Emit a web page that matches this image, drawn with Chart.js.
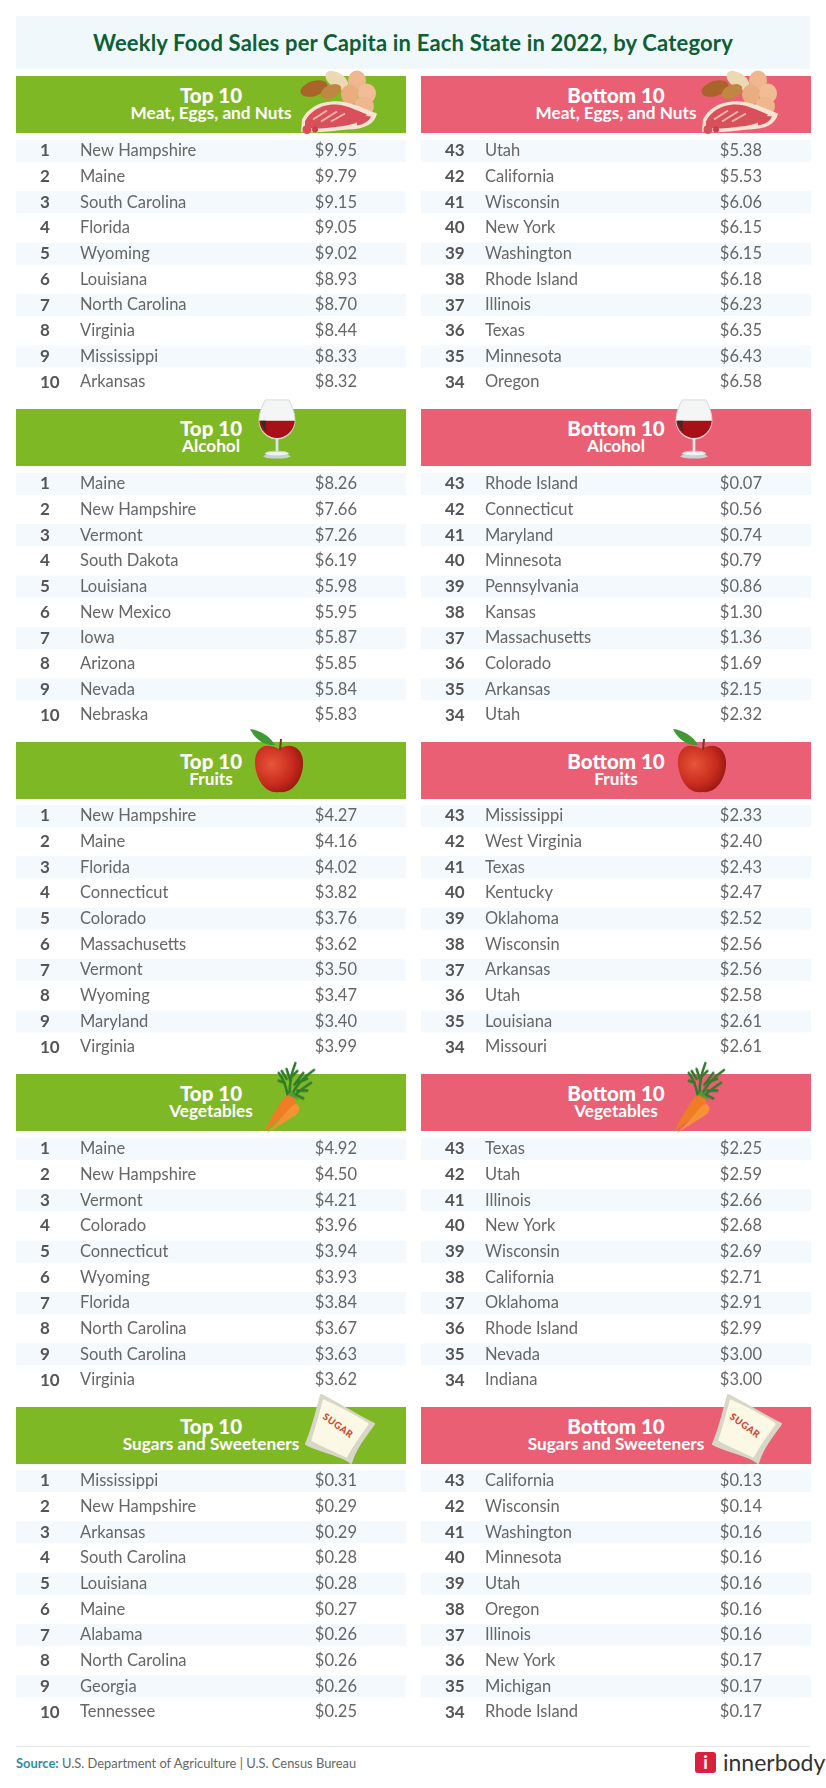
<!DOCTYPE html>
<html>
<head>
<meta charset="utf-8">
<title>Weekly Food Sales per Capita</title>
<script src="https://cdn.jsdelivr.net/npm/chart.js@4/dist/chart.umd.min.js"></script>
<style>
    html, body { margin: 0; background: #fff; }
    #page { position: relative; width: 826px; height: 1788px; overflow: hidden; font-family: Lato, sans-serif; }
    #titleBox { position: absolute; left: 16px; top: 16px; width: 794px; height: 53px; background: #f1f8fb; color: #0f5f36;
        font-weight: 700; font-size: 22px; line-height: 53px; text-align: center; letter-spacing: .18px; }
    .head { position: absolute; width: 390px; height: 57px; color: #fff; text-align: center; font-weight: 700; }
    .head.top { background: #7fb825; }
    .head.bottom { background: #ea5f74; }
    .head b { position: absolute; left: 0; right: 0; top: 6px; font-size: 20.5px; line-height: 26px; }
    .head span { position: absolute; left: 0; right: 0; top: 27px; font-size: 17.2px; line-height: 20px; }
    canvas { position: absolute; }
    .icon { position: absolute; overflow: visible; }
    #rule { position: absolute; left: 16px; top: 1746px; width: 794px; height: 1px; background: #e6e8e8; }
    #source { position: absolute; left: 16px; top: 1755px; font-size: 12.9px; line-height: 17px; color: #666; }
    #source b { color: #2b8ea6; }
    #logoMark { position: absolute; left: 695px; top: 1752px; width: 21px; height: 21px; border-radius: 3px; background: #d9213f;
        color: #fff; font: 700 18px/21px Lato, sans-serif; text-align: center; }
    #logoText { position: absolute; left: 723px; top: 1749px; font-size: 23px; line-height: 27px; color: #333; }
</style>
</head>
<body>
<div id="page">
    <div id="titleBox">Weekly Food Sales per Capita in Each State in 2022, by Category</div>
    <div id="rule"></div>
    <div id="source"><b>Source:</b> U.S. Department of Agriculture | U.S. Census Bureau</div>
    <div id="logoMark">i</div>
    <div id="logoText">innerbody</div>
</div>
<script>
// Data
const topRanks = [1, 2, 3, 4, 5, 6, 7, 8, 9, 10];
const bottomRanks = [43, 42, 41, 40, 39, 38, 37, 36, 35, 34];

const meatTopStates = ['New Hampshire', 'Maine', 'South Carolina', 'Florida', 'Wyoming', 'Louisiana', 'North Carolina', 'Virginia', 'Mississippi', 'Arkansas'];
const meatTopValues = [9.95, 9.79, 9.15, 9.05, 9.02, 8.93, 8.70, 8.44, 8.33, 8.32];
const meatBottomStates = ['Utah', 'California', 'Wisconsin', 'New York', 'Washington', 'Rhode Island', 'Illinois', 'Texas', 'Minnesota', 'Oregon'];
const meatBottomValues = [5.38, 5.53, 6.06, 6.15, 6.15, 6.18, 6.23, 6.35, 6.43, 6.58];

const alcoholTopStates = ['Maine', 'New Hampshire', 'Vermont', 'South Dakota', 'Louisiana', 'New Mexico', 'Iowa', 'Arizona', 'Nevada', 'Nebraska'];
const alcoholTopValues = [8.26, 7.66, 7.26, 6.19, 5.98, 5.95, 5.87, 5.85, 5.84, 5.83];
const alcoholBottomStates = ['Rhode Island', 'Connecticut', 'Maryland', 'Minnesota', 'Pennsylvania', 'Kansas', 'Massachusetts', 'Colorado', 'Arkansas', 'Utah'];
const alcoholBottomValues = [0.07, 0.56, 0.74, 0.79, 0.86, 1.30, 1.36, 1.69, 2.15, 2.32];

const fruitTopStates = ['New Hampshire', 'Maine', 'Florida', 'Connecticut', 'Colorado', 'Massachusetts', 'Vermont', 'Wyoming', 'Maryland', 'Virginia'];
const fruitTopValues = [4.27, 4.16, 4.02, 3.82, 3.76, 3.62, 3.50, 3.47, 3.40, 3.99];
const fruitBottomStates = ['Mississippi', 'West Virginia', 'Texas', 'Kentucky', 'Oklahoma', 'Wisconsin', 'Arkansas', 'Utah', 'Louisiana', 'Missouri'];
const fruitBottomValues = [2.33, 2.40, 2.43, 2.47, 2.52, 2.56, 2.56, 2.58, 2.61, 2.61];

const vegTopStates = ['Maine', 'New Hampshire', 'Vermont', 'Colorado', 'Connecticut', 'Wyoming', 'Florida', 'North Carolina', 'South Carolina', 'Virginia'];
const vegTopValues = [4.92, 4.50, 4.21, 3.96, 3.94, 3.93, 3.84, 3.67, 3.63, 3.62];
const vegBottomStates = ['Texas', 'Utah', 'Illinois', 'New York', 'Wisconsin', 'California', 'Oklahoma', 'Rhode Island', 'Nevada', 'Indiana'];
const vegBottomValues = [2.25, 2.59, 2.66, 2.68, 2.69, 2.71, 2.91, 2.99, 3.00, 3.00];

const sugarTopStates = ['Mississippi', 'New Hampshire', 'Arkansas', 'South Carolina', 'Louisiana', 'Maine', 'Alabama', 'North Carolina', 'Georgia', 'Tennessee'];
const sugarTopValues = [0.31, 0.29, 0.29, 0.28, 0.28, 0.27, 0.26, 0.26, 0.26, 0.25];
const sugarBottomStates = ['California', 'Wisconsin', 'Washington', 'Minnesota', 'Utah', 'Oregon', 'Illinois', 'New York', 'Michigan', 'Rhode Island'];
const sugarBottomValues = [0.13, 0.14, 0.16, 0.16, 0.16, 0.16, 0.16, 0.17, 0.17, 0.17];

// Small illustrations, drawn by hand as svg
const icons = {
    meat: {
        box: '0 0 80 64',
        svg: `<ellipse cx="15" cy="19" rx="14" ry="7.5" fill="#a9642a" transform="rotate(-18 15 19)"/>
            <ellipse cx="38" cy="11" rx="13" ry="7.5" fill="#ecd9b4" transform="rotate(35 38 11)"/>
            <ellipse cx="32" cy="22" rx="11" ry="6.5" fill="#c08743" transform="rotate(-25 32 22)"/>
            <ellipse cx="58" cy="11" rx="9" ry="10" fill="#eeb78d"/><ellipse cx="51" cy="25" rx="9" ry="10" fill="#e9ad80"/>
            <ellipse cx="68" cy="24" rx="9" ry="10" fill="#f0bd95"/><ellipse cx="65" cy="37" rx="10" ry="10" fill="#eeb78d"/>
            <path d="M3 50 C8 40 18 33 32 32 C48 30 62 38 78 44 C76 54 66 60 48 60 C30 62 14 64 2 62 Z" fill="#f7e3d3"/>
            <path d="M6 52 C10 43 20 36 33 35 C45 34 56 40 68 45 C62 53 52 56 40 57 C28 59 14 60 6 57 Z" fill="#d9505a"/>
            <path d="M14 50 L28 41 M22 52 L38 42 M32 52 L46 44" stroke="#f3b7b2" stroke-width="2"/>
            <path d="M58 50 C62 46 68 46 72 47 C70 52 64 55 58 56 Z" fill="#d9505a"/>
            <circle cx="8" cy="60" r="4.5" fill="#d9505a"/><circle cx="16" cy="60" r="3" fill="#c9404a"/>`
    },
    wine: {
        box: '0 0 42 66',
        svg: `<ellipse cx="21" cy="63" rx="15" ry="2.5" fill="#c9d3d4"/>
            <path d="M8 1 C2 12 0 22 2 29 C5 40 14 44 21 44 C28 44 37 40 40 29 C42 22 40 12 34 1 Z" fill="#f4f6f6" stroke="#cfd8d9"/>
            <path d="M1.5 24 C2 34 10 43 21 43 C32 43 40 34 40.5 24 Z" fill="#a80f16"/>
            <path d="M3 24 C4 30 7 34 10 36 C8 32 8 28 9 24 Z" fill="#3a2a2a"/>
            <rect x="19.5" y="44" width="3" height="15" fill="#dfe6e7"/>
            <ellipse cx="21" cy="60" rx="13" ry="2.6" fill="#eef2f2" stroke="#c4cfd0"/>`
    },
    apple: {
        box: '0 0 54 64',
        svg: `<defs><radialGradient id="appleRed" cx=".35" cy=".4" r=".75">
                <stop offset="0" stop-color="#e8553a"/><stop offset=".6" stop-color="#c62a1c"/><stop offset="1" stop-color="#8a120e"/>
            </radialGradient></defs>
            <path d="M0 0 C10 1 20 7 25 16 C14 17 5 10 0 0 Z" fill="#3f9a35"/>
            <path d="M29 20 C12 11 4 22 5 36 C7 52 16 65 29 63 C44 65 54 48 53 32 C52 20 42 12 29 20 Z" fill="url(#appleRed)"/>
            <path d="M30 21 L31 10" stroke="#6b3d18" stroke-width="2"/>`
    },
    carrot: {
        box: '0 0 55 74',
        svg: `<g stroke="#2f7d2c" stroke-width="2.6" fill="none" stroke-linecap="round">
                <path d="M26 34 C24 24 22 18 17 12 M28 33 C28 22 30 12 34 2 M30 35 C34 26 40 18 53 9 M32 36 C38 30 44 26 50 22"/>
                <path d="M23 22 L17 20 M25 18 L20 10 M29 20 L25 8 M30 16 L36 10 M33 24 L42 12 M36 22 L46 18 M36 30 L46 30 M34 34 L42 38"/>
            </g>
            <path d="M26 34 L30 30 L38 40 Z" fill="#4f9e33"/>
            <path d="M30 36 C36 38 36 44 32 48 L2 72 C8 60 18 42 24 36 C26 35 28 35 30 36 Z" fill="#ee7d26"/>
            <path d="M36 44 C40 48 38 52 34 55 L4 74 C14 66 24 52 30 46 C32 44 34 43 36 44 Z" fill="#f59235"/>`
    },
    sugar: {
        box: '0 0 70 70',
        svg: `<path d="M16 1 C30 8 50 20 69 30 C60 42 50 55 46 69 C40 62 16 58 1 50 C8 34 12 16 16 1 Z" fill="#d8d6c6" stroke="#d8d6c6" stroke-linejoin="round" stroke-width="2"/>
            <path d="M19 7 C32 13 48 21 62 30 C54 41 46 52 41 62 C30 56 18 52 8 46 C12 33 16 20 19 7 Z" fill="#fbf8e6" stroke="#fbf8e6" stroke-linejoin="round" stroke-width="3"/>
            <text x="0" y="0" transform="translate(17 24) rotate(36)" font-family="Lato, sans-serif" font-weight="900" font-size="9.5" fill="#d5432a" letter-spacing=".6">SUGAR</text>`
    }
};

// Rows are drawn on one chart per panel: ranks, states and prices sit on three category axes
const bandPlugin = {
    id: 'rowBands',
    beforeDraw(chart) {
        const scale = chart.scales.y;
        const ctx = chart.ctx;
        ctx.save();
        ctx.fillStyle = '#f3f9fc';
        scale.ticks.forEach((tick, i) => {
            if (i % 2 === 0) {
                ctx.fillRect(0, scale.getPixelForTick(i) - 11, chart.width, 22);
            }
        });
        ctx.restore();
    }
};

// Fixed column width, and no room kept for half a label above and below
function fixedWidth(width) {
    return axis => {
        axis.width = width;
        axis.paddingTop = 0;
        axis.paddingBottom = 0;
    };
}

function rowAxis(labels, position, width, font, weight) {
    return {
        type: 'category',
        labels: labels,
        position: position,
        offset: true,
        afterFit: fixedWidth(width),
        grid: { display: false },
        border: { display: false },
        ticks: {
            autoSkip: false,
            padding: 0,
            crossAlign: 'far',
            color: weight === 700 ? '#555' : '#666',
            font: { family: 'Lato', size: font, weight: weight }
        }
    };
}

function drawPanel(canvasId, left, top, ranks, states, values) {
    const canvas = document.createElement('canvas');
    canvas.id = canvasId;
    canvas.width = 390;
    canvas.height = 257;
    canvas.style.left = left + 'px';
    canvas.style.top = top + 'px';
    document.getElementById('page').appendChild(canvas);

    new Chart(canvas.getContext('2d'), {
        type: 'bar',
        data: {
            labels: states,
            datasets: [{ label: canvasId, data: values, backgroundColor: 'transparent', yAxisID: 'y', xAxisID: 'x' }]
        },
        options: {
            indexAxis: 'y',
            responsive: false,
            animation: false,
            layout: { padding: { left: 24, right: 49, top: 0, bottom: 0 } },
            plugins: { legend: { display: false }, title: { display: false }, tooltip: { enabled: false } },
            scales: {
                x: { display: false, min: 0 },
                yRank: Object.assign(rowAxis(ranks.map(String), 'left', 40, 17, 700), { weight: 2 }),
                y: Object.assign(rowAxis(states, 'left', 200, 16.5, 400), { weight: 1 }),
                yValue: rowAxis(values.map(v => '$' + v.toFixed(2)), 'right', 60, 16.5, 400)
            }
        },
        plugins: [bandPlugin]
    });
}

function addHeader(left, top, kind, title, name) {
    const head = document.createElement('div');
    head.className = 'head ' + kind;
    head.style.left = left + 'px';
    head.style.top = top + 'px';
    head.innerHTML = `<b>${title}</b><span>${name}</span>`;
    document.getElementById('page').appendChild(head);
}

function addIcon(name, left, top, width, height) {
    const icon = icons[name];
    const holder = document.createElement('div');
    holder.innerHTML = `<svg class="icon" style="left:${left}px;top:${top}px" width="${width}" height="${height}" viewBox="${icon.box}">${icon.svg}</svg>`;
    document.getElementById('page').appendChild(holder.firstChild);
}

const LEFT_X = 16;
const RIGHT_X = 421;

function addSection(headTop, rowTop, name, topStates, topValues, bottomStates, bottomValues) {
    addHeader(LEFT_X, headTop, 'top', 'Top 10', name);
    addHeader(RIGHT_X, headTop, 'bottom', 'Bottom 10', name);
    drawPanel('top' + headTop, LEFT_X, rowTop, topRanks, topStates, topValues);
    drawPanel('bottom' + headTop, RIGHT_X, rowTop, bottomRanks, bottomStates, bottomValues);
}

addSection(76, 138, 'Meat, Eggs, and Nuts', meatTopStates, meatTopValues, meatBottomStates, meatBottomValues);
addSection(409, 471, 'Alcohol', alcoholTopStates, alcoholTopValues, alcoholBottomStates, alcoholBottomValues);
addSection(742, 803, 'Fruits', fruitTopStates, fruitTopValues, fruitBottomStates, fruitBottomValues);
addSection(1074, 1136, 'Vegetables', vegTopStates, vegTopValues, vegBottomStates, vegBottomValues);
addSection(1407, 1468, 'Sugars and Sweeteners', sugarTopStates, sugarTopValues, sugarBottomStates, sugarBottomValues);

addIcon('meat', 299, 69, 80, 65);
addIcon('meat', 700, 69, 80, 65);
addIcon('wine', 256, 399, 42, 60);
addIcon('wine', 673, 399, 42, 60);
addIcon('apple', 250, 729, 54, 64);
addIcon('apple', 673, 729, 54, 64);
addIcon('carrot', 262, 1061, 54, 73);
addIcon('carrot', 672, 1061, 54, 73);
addIcon('sugar', 305, 1394, 70, 70);
addIcon('sugar', 712, 1394, 70, 70);
</script>
</body>
</html>
